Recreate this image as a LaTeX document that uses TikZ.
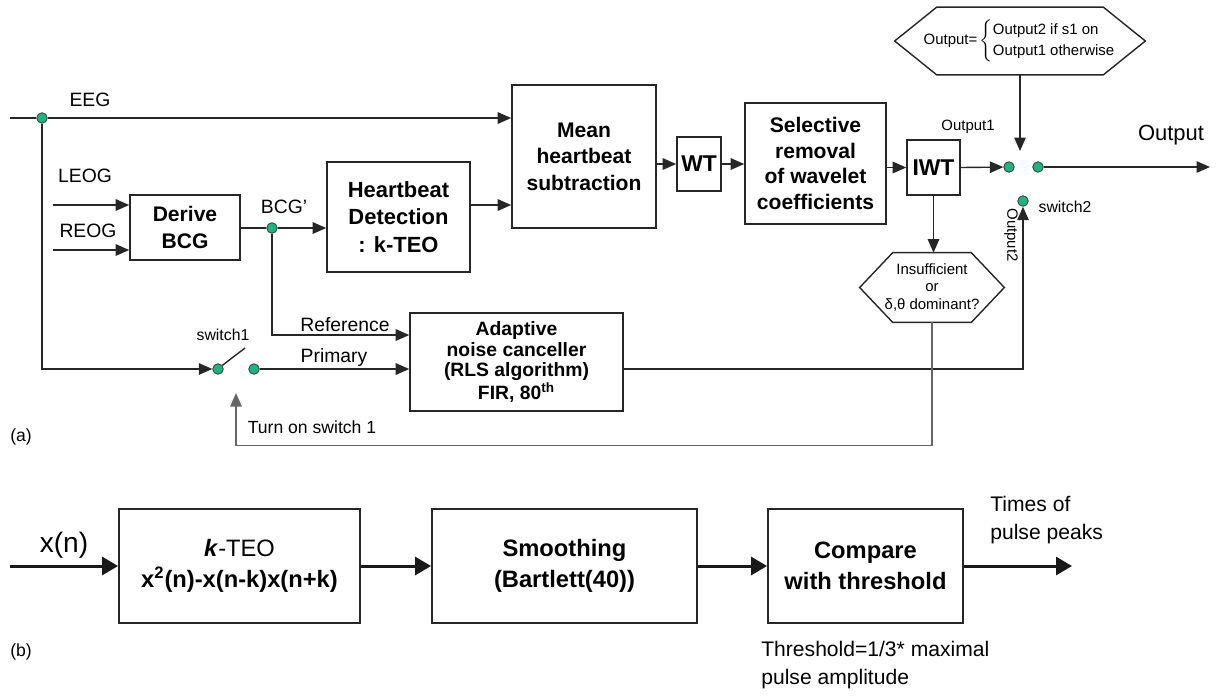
\documentclass[tikz,border=0pt]{standalone}
\usepackage{fontspec}
\setmainfont{Liberation Sans}
\usetikzlibrary{arrows.meta,calc}
\definecolor{tapgreen}{RGB}{30,180,130}

\begin{document}
\begin{tikzpicture}[x=0.02cm,y=-0.02cm,
  blk/.style={draw=black!85,line width=0.9pt,align=center,inner sep=1pt,
    font=\fontsize{12}{15}\selectfont\bfseries},
  lbl/.style={inner sep=0pt,font=\fontsize{11}{13}\selectfont},
  tiny/.style={inner sep=0pt,font=\fontsize{8.5}{10}\selectfont},
  tap/.style={circle,fill=tapgreen,draw=black!75,line width=0.5pt,inner sep=0pt,minimum size=0.21cm},
  wire/.style={draw=black!85,line width=0.8pt},
  sig/.style={wire,-{Triangle[length=0.27cm,width=0.23cm]}},
  fb/.style={draw=black!60,line width=0.8pt,-{Triangle[length=0.27cm,width=0.23cm]}},
  bblk/.style={draw=black!85,line width=1.1pt,align=center,minimum height=2.28cm,
    font=\fontsize{13.5}{18}\selectfont},
  bsig/.style={draw=black!90,line width=1.7pt,-{Triangle[length=0.32cm,width=0.36cm]}},
  ]
  \useasboundingbox (0,0) rectangle (1217,698);

  % ---- (a) artifact removal ----
  % blocks
  \node[blk,minimum width=2.2cm,minimum height=1.3cm] (derive) at (185,227.5) {Derive\\BCG};
  \node[blk,minimum width=2.86cm,minimum height=2.2cm,font=\fontsize{12.5}{15.5}\selectfont\bfseries] (hb) at (398.5,217) {Heartbeat\\Detection\\: k-TEO};
  \node[blk,minimum width=2.88cm,minimum height=2.86cm] (mean) at (584,156.5) {Mean\\heartbeat\\subtraction};
  \node[blk,minimum width=0.88cm,minimum height=1.08cm,font=\fontsize{13}{15}\selectfont\bfseries] (wt) at (699,164) {WT};
  \node[blk,minimum width=2.82cm,minimum height=2.42cm,font=\fontsize{12}{14.5}\selectfont\bfseries] (sel) at (815.5,163.5) {Selective\\removal\\of wavelet\\coefficients};
  \node[blk,minimum width=1.06cm,minimum height=1.1cm,font=\fontsize{13}{15}\selectfont\bfseries] (iwt) at (933.5,167.5) {IWT};
  \node[blk,minimum width=4.26cm,minimum height=1.96cm,font=\fontsize{11}{11.5}\selectfont\bfseries] (anc) at (516.5,362)
    {Adaptive\\noise canceller\\(RLS algorithm)\\FIR, 80\textsuperscript{th}};

  % decision and switching rule (hexagons)
  \node[tiny,align=center,minimum width=2.88cm,minimum height=1.38cm,font=\fontsize{8.5}{9.7}\selectfont] (dec) at (932,287.5)
    {Insufficient\\or\\δ,θ dominant?};
  \draw[wire] (dec.west) -- ($(dec.north west)+(33,0)$) -- ($(dec.north east)+(-33,0)$) -- (dec.east)
    -- ($(dec.south east)+(-33,0)$) -- ($(dec.south west)+(33,0)$) -- cycle;
  \node[tiny,minimum width=5cm,minimum height=1.34cm] (rule) at (1020,41)
    {Output=\,$\left\{\renewcommand\arraystretch{1.2}\begin{tabular}{@{}l@{}}Output2 if s1 on\\Output1 otherwise\end{tabular}\right.$};
  \draw[wire] (rule.west) -- ($(rule.north west)+(42,0)$) -- ($(rule.north east)+(-42,0)$) -- (rule.east)
    -- ($(rule.south east)+(-42,0)$) -- ($(rule.south west)+(42,0)$) -- cycle;

  % junctions and switch contacts
  \node[tap] (t0) at (42,118) {};
  \node[tap] (bcg) at (272,228) {};
  \node[tap] (s1a) at (218,369) {};
  \node[tap] (s1b) at (254,369) {};
  \node[tap] (s2a) at (1009,167) {};
  \node[tap] (s2b) at (1038,167) {};
  \node[tap] (s2c) at (1023,201) {};
  \coordinate (eegin) at (10,118);
  \coordinate (leog) at (53,205);
  \coordinate (reog) at (53,250);
  \coordinate (s1lev) at (245,348);
  \coordinate (s1gap) at (236,393);
  \coordinate (s2arr) at (1020,151);
  \coordinate (outend) at (1210,167);

  % signal paths
  \draw[wire] (eegin) -- (t0);
  \draw[sig] (t0) -- (t0 -| mean.west);
  \draw[sig] (leog) -- (leog -| derive.west);
  \draw[sig] (reog) -- (reog -| derive.west);
  \draw[wire] (derive.east |- bcg) -- (bcg);
  \draw[sig] (bcg) -- (bcg -| hb.west);
  \draw[sig] (hb.east |- leog) -- (mean.west |- leog);
  \draw[sig] (mean.east |- wt.west) -- (wt.west);
  \draw[sig] (wt.east) -- (sel.west |- wt.east);
  \draw[sig] (sel.east |- iwt.west) -- (iwt.west);
  \draw[sig] (iwt.east) -- (s2a);
  \draw[sig] (s2b) -- (outend);
  \draw[sig] (rule.south) -- (s2arr);
  \draw[sig] (iwt.south) -- (iwt.south |- dec.north);
  % noise canceller branch
  \draw[sig] (bcg) |- ([yshift=0.54cm]anc.west);
  \draw[sig] (t0) |- (s1a);
  \draw[wire] (s1a.40) -- (s1lev);
  \draw[sig] (s1b) -- (s1b -| anc.west);
  \draw[sig] (anc.east |- s1b) -| (s2c);
  \draw[fb] (dec.south) -- ++(0,123) -| (s1gap);

  % labels
  \node[lbl] at (90,100) {EEG};
  \node[lbl] at (85,176) {LEOG};
  \node[lbl] at (88,231) {REOG};
  \node[lbl] at (284,207) {BCG'};
  \node[lbl] at (345,325) {Reference};
  \node[lbl] at (334,357) {Primary};
  \node[tiny,font=\fontsize{9}{11}\selectfont] at (223,335) {switch1};
  \node[tiny,font=\fontsize{10}{12}\selectfont] at (312,427) {Turn on switch 1};
  \node[tiny] at (968,127) {Output1};
  \node[lbl,font=\fontsize{12.5}{15}\selectfont] at (1171,135) {Output};
  \node[tiny,font=\fontsize{9}{11}\selectfont] at (1065,207) {switch2};
  \node[tiny,rotate=-90] at (1011,235) {Output2};
  \node[lbl,font=\fontsize{10}{12}\selectfont] at (21,437) {(a)};

  % ---- (b) pulse peak detection ----
  \node[bblk,minimum width=4.82cm] (teo) at (239.5,566)
    {\textbf{\textit{k}}-TEO\\\textbf{x\textsuperscript{2}(n)-x(n-k)x(n+k)}};
  \node[bblk,minimum width=5.3cm,font=\fontsize{13.5}{18}\selectfont\bfseries] (smooth) at (564.5,566)
    {Smoothing\\(Bartlett(40))};
  \node[bblk,minimum width=3.9cm,font=\fontsize{13.5}{18}\selectfont\bfseries] (cmp) at (865.5,566)
    {Compare\\with threshold};
  \coordinate (xin) at (10,566);
  \coordinate (pk) at (1072,566);
  \draw[bsig] (xin) -- (teo.west);
  \draw[bsig] (teo.east) -- (smooth.west);
  \draw[bsig] (smooth.east) -- (cmp.west);
  \draw[bsig] (cmp.east) -- (pk);

  \node[lbl,font=\fontsize{16}{18}\selectfont] at (64,545) {x(n)};
  \node[lbl,align=left,anchor=west,font=\fontsize{12}{16}\selectfont] at (990,520) {Times of\\pulse peaks};
  \node[lbl,align=left,anchor=west,font=\fontsize{12}{16}\selectfont] at (761,665) {Threshold=1/3* maximal\\pulse amplitude};
  \node[lbl,font=\fontsize{10}{12}\selectfont] at (21,652) {(b)};
\end{tikzpicture}
\end{document}
